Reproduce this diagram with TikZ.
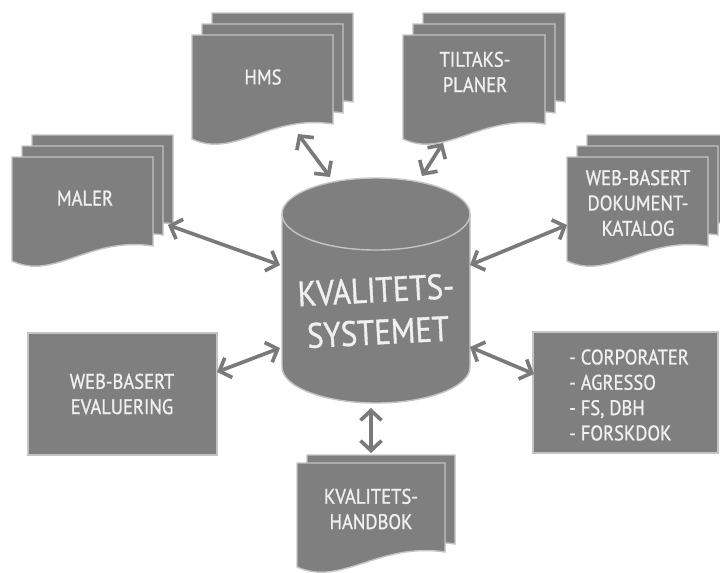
\documentclass[tikz,border=0pt]{standalone}
\usepackage{fontspec}
\setmainfont{PT Sans}[FakeStretch=0.88, FakeBold=1.0]
\usetikzlibrary{arrows.meta}
\tikzset{>={Straight Barb[length=7pt,width=15pt]}}
\definecolor{boxgray}{HTML}{7F7F7F}
\definecolor{edgegray}{HTML}{C4C4C4}
\definecolor{arrowgray}{HTML}{7A7A7A}
\definecolor{textgray}{HTML}{F0F0F0}
\tikzset{
  page/.style={fill=boxgray, draw=edgegray, line width=1pt},
  doctext/.style={text=textgray, font=\fontsize{15}{18}\selectfont, align=center, inner sep=0pt},
  systext/.style={text=textgray, font=\fontsize{25}{30}\selectfont, align=center, inner sep=0pt},
  link/.style={draw=arrowgray, line width=2.6pt, <->},
}
\newcommand*{\docpage}[4]{%
  \draw[page] (#1,#2) -- (#1+#3,#2) -- (#1+#3,#2+#4-15)
    .. controls (#1+0.55*#3,#2+#4-25) and (#1+0.3*#3,#2+#4+20) .. (#1,#2+#4) -- cycle;}

\begin{document}
\begin{tikzpicture}[x=0.025cm, y=-0.025cm]
    \clip (0,0) rectangle (720,572);
    \fill[white] (0,0) rectangle (720,572);
    \docpage{212}{13}{141}{104}
    \docpage{202}{24}{141}{104}
    \docpage{192}{35}{141}{104}
    \node[doctext] (hms) at (263,77) {HMS};
    \docpage{423}{13}{142}{104}
    \docpage{413}{24}{142}{104}
    \docpage{403}{35}{142}{104}
    \node[doctext] (tiltak) at (475,72) {TILTAKS-\\PLANER};
    \docpage{32}{135}{141}{104}
    \docpage{22}{146}{141}{104}
    \docpage{12}{157}{141}{104}
    \node[doctext] (maler) at (85,198) {MALER};
    \docpage{587}{135}{141}{104}
    \docpage{577}{146}{141}{104}
    \docpage{567}{157}{141}{104}
    \node[doctext] (katalog) at (638,203) {WEB-BASERT\\DOKUMENT-\\KATALOG};
    \docpage{307}{455}{148}{104}
    \docpage{297}{463}{148}{104}
    \node[doctext] (handbok) at (371,509) {KVALITETS-\\HANDBOK};
    \node[page, minimum width=4.725cm, minimum height=3.05cm] (evalbox) at (122.5,394) {};
    \node[doctext] (evaluering) at (122,394) {WEB-BASERT\\EVALUERING};
    \node[page, minimum width=4.625cm, minimum height=3.025cm] (sysbox) at (625.5,392.5) {};
    \node[doctext, align=left] (systemer) at (629,395) {- CORPORATER\\- AGRESSO\\- FS, DBH\\- FORSKDOK};
    \draw[page] (282,214) -- (282,367) arc[start angle=180, end angle=0, x radius=94, y radius=36]
        -- (470,214) arc[start angle=0, end angle=-180, x radius=94, y radius=36] -- cycle;
    \draw[edgegray, line width=1pt] (282,214) arc[start angle=180, end angle=0, x radius=94, y radius=36];
    \node[systext, rotate=3] (kval) at (377,311) {KVALITETS-\\SYSTEMET};
    \coordinate (hms-a) at (298,134);
    \coordinate (hms-b) at (330,177);
    \coordinate (tiltak-a) at (443,143);
    \coordinate (tiltak-b) at (422,176);
    \coordinate (maler-a) at (168,225);
    \coordinate (maler-b) at (280,265);
    \coordinate (katalog-a) at (567,225);
    \coordinate (katalog-b) at (470,265);
    \coordinate (eval-a) at (217,372);
    \coordinate (eval-b) at (280,348);
    \coordinate (sys-a) at (534,374);
    \coordinate (sys-b) at (470,347);
    \coordinate (handbok-a) at (371,453);
    \coordinate (handbok-b) at (371,408);
    \draw[link] (hms-a) -- (hms-b);
    \draw[link] (tiltak-a) -- (tiltak-b);
    \draw[link] (maler-a) -- (maler-b);
    \draw[link] (katalog-a) -- (katalog-b);
    \draw[link] (eval-a) -- (eval-b);
    \draw[link] (sys-a) -- (sys-b);
    \draw[link] (handbok-a) -- (handbok-b);
\end{tikzpicture}
\end{document}
